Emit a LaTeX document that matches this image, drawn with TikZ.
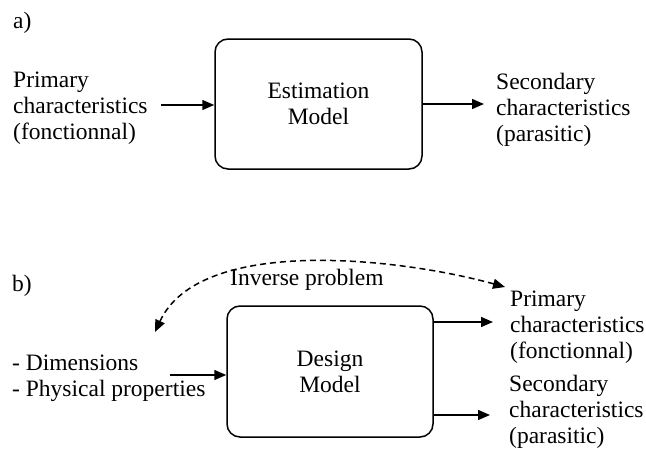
\documentclass[tikz,border=0pt]{standalone}
\usepackage{fontspec}
\setmainfont{Liberation Serif}
\usepackage{tikz}
\usetikzlibrary{positioning, arrows.meta}

\begin{document}
\begin{tikzpicture}[x=1pt, y=-1pt,
        every node/.style={font=\fontsize{23.5}{26}\selectfont, inner sep=0pt},
        model/.style={draw, line width=1.5pt, rounded corners=13pt, align=center,
            minimum width=207pt, minimum height=130pt},
        txt/.style={anchor=west, align=left},
        flow/.style={-{Triangle[length=12pt, width=10pt]}, line width=1.5pt},
        inverse/.style={{Triangle[length=12pt, width=10pt]}-{Triangle[length=12pt, width=10pt]},
            line width=1.5pt, dash pattern=on 6pt off 4pt}]
    \useasboundingbox (0,0) rectangle (646,463);

    % a)
    \node [anchor=base west] (la) at (13, 28) {a)};
    \node [model] (est) at (318.5, 104) {Estimation\\Model};
    \node [txt] (prima) at (13, 108) {Primary\\characteristics\\(fonctionnal)};
    \node [txt] (seca) at (496, 110) {Secondary\\characteristics\\(parasitic)};
    \coordinate (ina) at (161, 105);
    \coordinate (outa) at (484, 104);

    \draw [flow] (ina) -- (ina -| est.west);
    \draw [flow] (outa -| est.east) -- (outa);

    % b)
    \node [anchor=base west] (lb) at (12, 291) {b)};
    \node [model, minimum width=206pt, minimum height=131pt] (des) at (330, 371.5) {Design\\Model};
    \node [txt] (dims) at (12, 378) {- Dimensions\\- Physical properties};
    \node [txt] (primb) at (510, 327) {Primary\\characteristics\\(fonctionnal)};
    \node [txt] (secb) at (509, 412) {Secondary\\characteristics\\(parasitic)};
    \node [anchor=base west] (inv) at (230, 285) {Inverse problem};
    \coordinate (inb) at (170, 375);
    \coordinate (outb1) at (493, 322);
    \coordinate (outb2) at (490, 415);
    \coordinate (invl) at (155, 332);
    \coordinate (invr) at (505, 287);

    \draw [flow] (inb) -- (inb -| des.west);
    \draw [flow] (outb1 -| des.east) -- (outb1);
    \draw [flow] (outb2 -| des.east) -- (outb2);
    \draw [inverse] (invl) .. controls (200, 235) and (400, 258) .. (invr);
\end{tikzpicture}
\end{document}
